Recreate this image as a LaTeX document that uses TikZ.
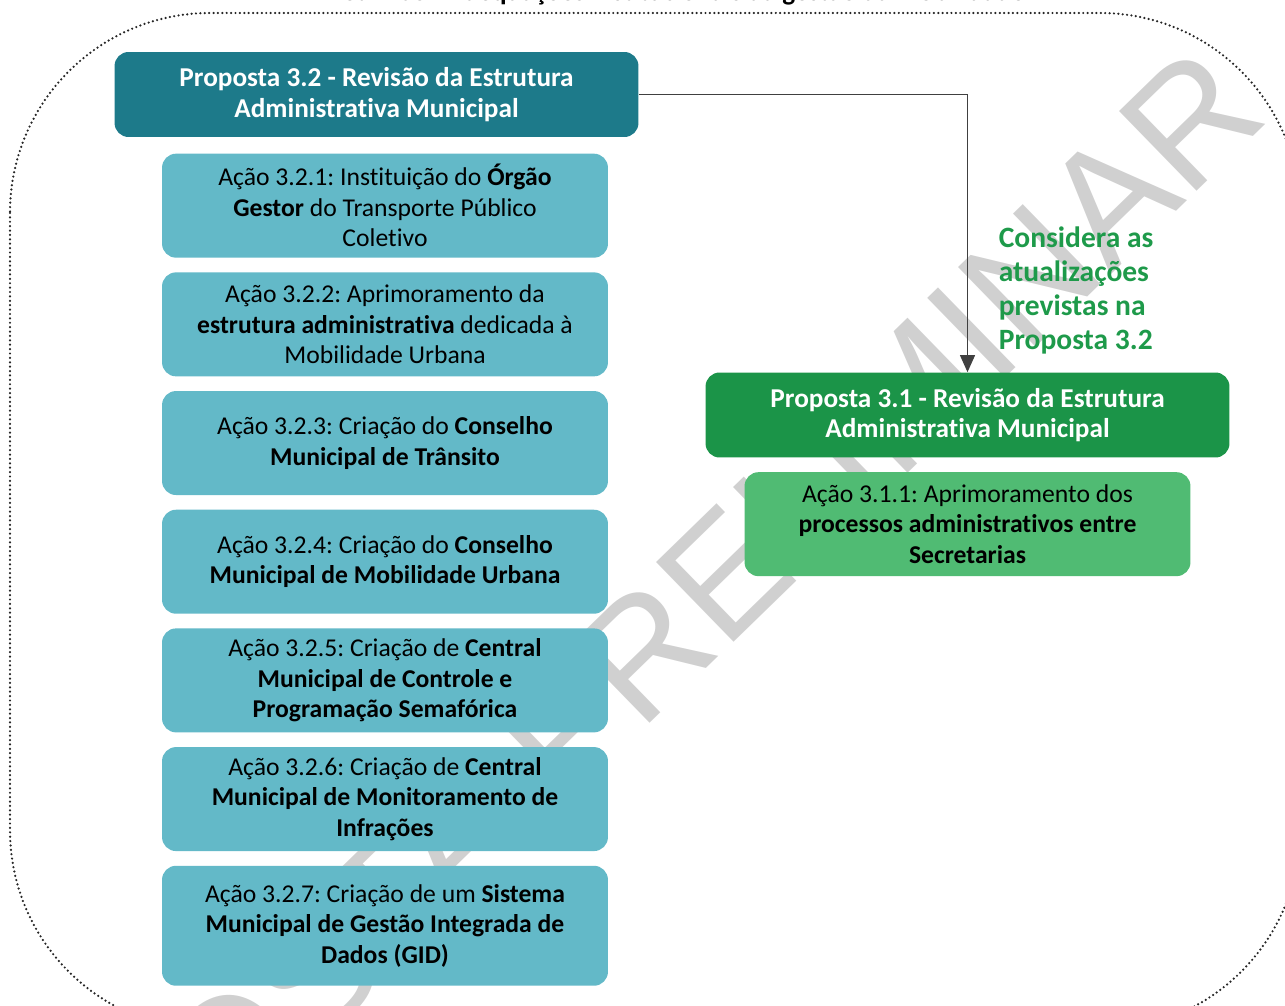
\documentclass[tikz,border=0pt]{standalone}
\usepackage{fontspec}
\setmainfont{Carlito}[Ligatures={NoCommon}]
\newfontfamily\wmfont{Liberation Sans}
\usetikzlibrary{arrows.meta,positioning}
\frenchspacing
\definecolor{tealdark}{HTML}{1D7A8A}
\definecolor{teallight}{HTML}{63B9C8}
\definecolor{greendark}{HTML}{1B9448}
\definecolor{greenlight}{HTML}{50BB73}
\definecolor{notegreen}{HTML}{1E9A4A}
\definecolor{wmgray}{HTML}{D0D0D0}
\tikzset{
proposta/.style={rounded corners=0.28cm,minimum width=10.48cm,minimum height=1.7cm,align=center,text=white,font=\fontsize{15.5}{17.3}\selectfont\bfseries},
acao/.style={rounded corners=0.28cm,fill=teallight,minimum width=8.92cm,minimum height=2.08cm,align=center,font=\fontsize{14.6}{17.3}\selectfont},
note/.style={align=left,inner sep=0pt,text=notegreen,font=\fontsize{16.8}{19.3}\selectfont\bfseries},
flow/.style={-{Triangle[length=3.4mm,width=3mm]},draw=black!75,line width=0.6pt},
frame/.style={draw=black!85,line width=1.4pt,line cap=round,dash pattern=on 0pt off 2.5pt,rounded corners=4cm},
watermark/.style={text=wmgray,inner sep=0pt,font=\wmfont\fontsize{92}{92}\selectfont}
}
\begin{document}
\begin{tikzpicture}[x=0.02cm,y=-0.02cm]
\useasboundingbox (0,0) rectangle (1285,1006);
\draw[frame] (10,13) rectangle (1300,1030);
\node[watermark,rotate=44.2] (wm) at (545,748) {PROPOSTA PRELIMINAR};
\node[anchor=base,font=\fontsize{15.5}{16}\selectfont\bfseries] (title) at (667,1) {Diretriz 03 - Adequações institucionais da gestão da mobilidade};
% Proposta 3.2 e suas acoes
\node[proposta,fill=tealdark] (p32) at (376.5,94.5) {Proposta 3.2 - Revisão da Estrutura\\Administrativa Municipal};
\node[acao,below=0.32cm of p32,xshift=0.17cm] (a321) {Ação 3.2.1: Instituição do \textbf{Órgão}\\\textbf{Gestor} do Transporte Público\\Coletivo};
\node[acao,below=0.28cm of a321] (a322) {Ação 3.2.2: Aprimoramento da\\\textbf{estrutura administrativa} dedicada à\\Mobilidade Urbana};
\node[acao,below=0.28cm of a322] (a323) {Ação 3.2.3: Criação do \textbf{Conselho}\\\textbf{Municipal de Trânsito}};
\node[acao,below=0.28cm of a323] (a324) {Ação 3.2.4: Criação do \textbf{Conselho}\\\textbf{Municipal de Mobilidade Urbana}};
\node[acao,below=0.28cm of a324] (a325) {Ação 3.2.5: Criação de \textbf{Central}\\\textbf{Municipal de Controle e}\\\textbf{Programação Semafórica}};
\node[acao,below=0.28cm of a325] (a326) {Ação 3.2.6: Criação de \textbf{Central}\\\textbf{Municipal de Monitoramento de}\\\textbf{Infrações}};
\node[acao,below=0.28cm of a326,minimum height=2.4cm] (a327) {Ação 3.2.7: Criação de um \textbf{Sistema}\\\textbf{Municipal de Gestão Integrada de}\\\textbf{Dados (GID)}};
% Proposta 3.1
\node[proposta,fill=greendark] (p31) at (967.5,415) {Proposta 3.1 - Revisão da Estrutura\\Administrativa Municipal};
\node[acao,fill=greenlight,below=0.28cm of p31] (a311) {Ação 3.1.1: Aprimoramento dos\\\textbf{processos administrativos entre}\\\textbf{Secretarias}};
\draw[flow](p32.east)-|(p31.north);
\node[note,above right=0.36cm and 0.62cm of p31.north] (nota) {Considera as\\atualizações\\previstas na\\Proposta 3.2};
\end{tikzpicture}
\end{document}
